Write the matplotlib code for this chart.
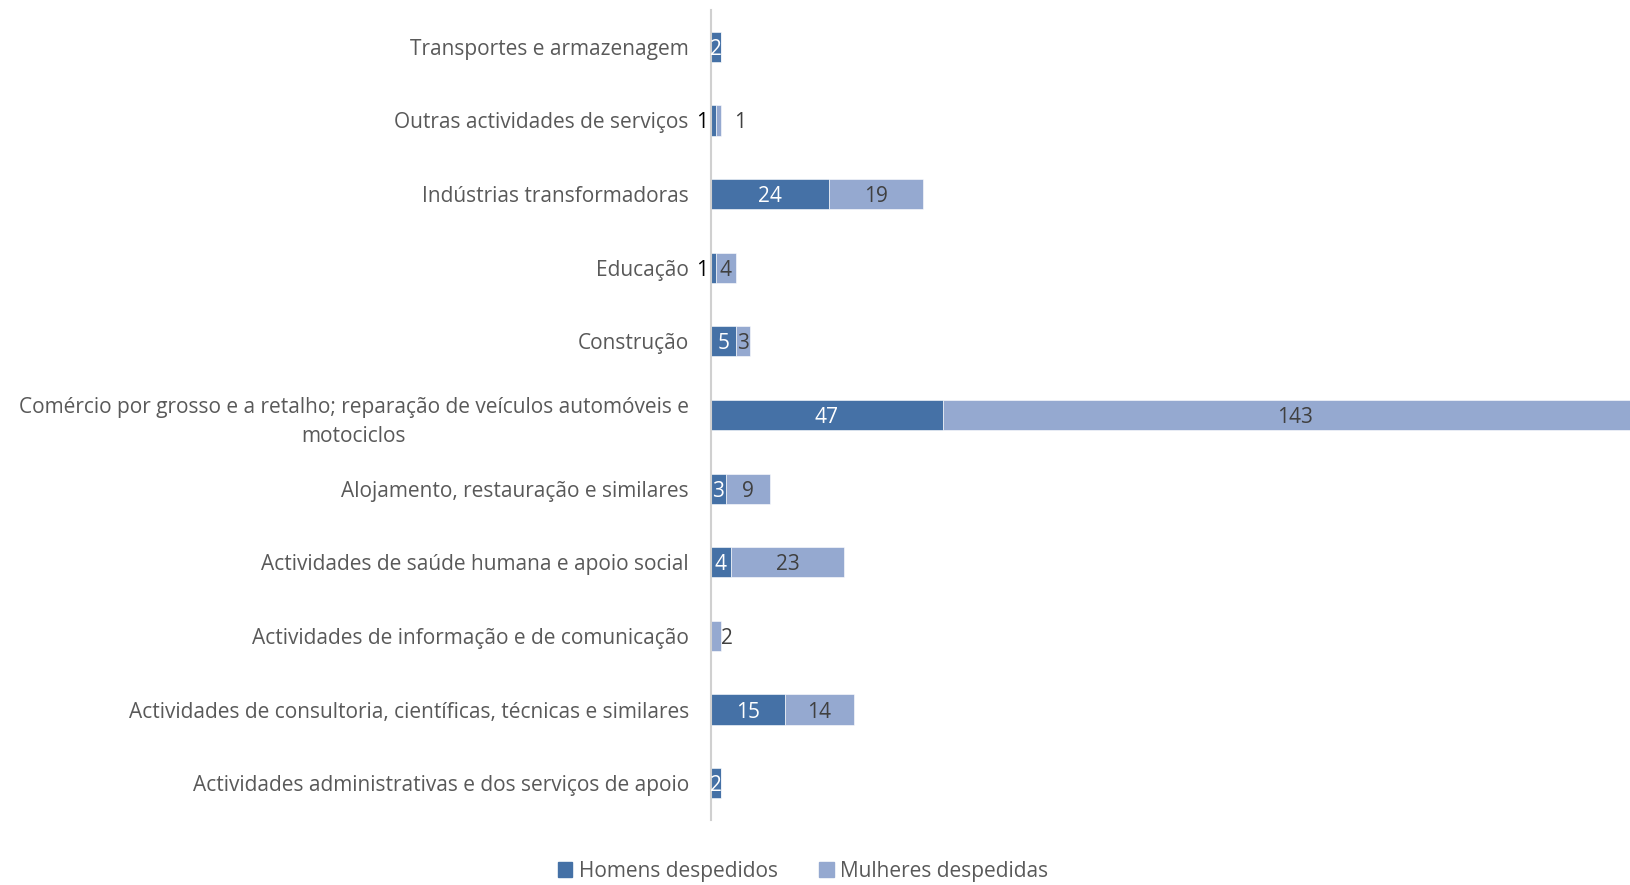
import matplotlib
matplotlib.use("Agg")
import matplotlib.pyplot as plt
from matplotlib.patches import Patch

categories = [
    "Actividades administrativas e dos serviços de apoio",
    "Actividades de consultoria, científicas, técnicas e similares",
    "Actividades de informação e de comunicação",
    "Actividades de saúde humana e apoio social",
    "Alojamento, restauração e similares",
    "Comércio por grosso e a retalho; reparação de veículos automóveis e\nmotociclos",
    "Construção",
    "Educação",
    "Indústrias transformadoras",
    "Outras actividades de serviços",
    "Transportes e armazenagem",
]
homens = [2, 15, 0, 4, 3, 47, 5, 1, 24, 1, 2]
mulheres = [0, 14, 2, 23, 9, 143, 3, 4, 19, 1, 0]
series_names = ["Homens despedidos", "Mulheres despedidas"]

c_dark = "#4571A6"
c_light = "#95A9D0"
txt = "#595959"
FONT = "Open Sans"

fig = plt.figure(figsize=(16.30, 8.85), dpi=100)
ax = fig.add_axes([711/1630, 1-820/885, 1-711/1630, (820-10)/885])

y = list(range(len(categories)))
h = 0.41
ax.barh(y, homens, height=h, color=c_dark, edgecolor="white", linewidth=0.4)
ax.barh(y, mulheres, left=homens, height=h, color=c_light, edgecolor="white", linewidth=0.4)

ax.set_xlim(0, 186.4)
ax.set_ylim(-0.5, len(categories)-0.5)
ax.set_xticks([])
ax.set_yticks(y)
ax.set_yticklabels(categories, fontsize=15, color=txt, family=FONT,
                   multialignment="center", linespacing=1.55)
ax.tick_params(axis="y", length=0, pad=16)
for s in ["top", "right", "bottom"]:
    ax.spines[s].set_visible(False)
ax.spines["left"].set_color("#D0D0D0")
ax.spines["left"].set_linewidth(1.5)

fs = 15
kw = dict(va="center_baseline", fontsize=fs, family=FONT)
for i, (m, w) in enumerate(zip(homens, mulheres)):
    if m > 0:
        if m >= 2:
            ax.text(m/2, i, str(m), ha="center", color="white", **kw)
        else:
            ax.text(-0.6, i, str(m), ha="right", color="black", **kw)
    if w > 0:
        if w >= 3:
            ax.text(m + w/2, i, str(w), ha="center", color="#404040", **kw)
        elif m > 0:
            ax.text(m + w + 3.9, i, str(w), ha="center", color="#404040", **kw)
        else:
            ax.text(m + w + 0.05, i, str(w), ha="left", color="#404040", **kw)

handles = [Patch(color=c_dark), Patch(color=c_light)]
leg = fig.legend(handles, series_names, loc="center", bbox_to_anchor=(803/1630, 1-871/885),
                 ncol=2, frameon=False, fontsize=15, handlelength=0.7, handleheight=0.7,
                 handletextpad=0.3, columnspacing=2.0)
for t in leg.get_texts():
    t.set_color(txt)
    t.set_family(FONT)

fig.savefig("out.png", dpi=100)
